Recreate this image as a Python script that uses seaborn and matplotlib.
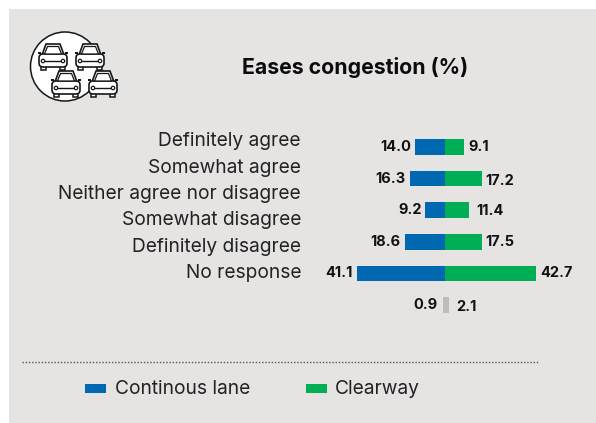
import matplotlib
matplotlib.use("Agg")
import matplotlib.pyplot as plt
from matplotlib.patches import Circle, Rectangle, FancyBboxPatch, Polygon
import pandas as pd
import seaborn as sns

categories = ["Definitely agree", "Somewhat agree", "Neither agree nor disagree",
              "Somewhat disagree", "Definitely disagree", "No response"]
continuous_lane = [14.0, 16.3, 9.2, 18.6, 41.1, 0.9]
clearway = [9.1, 17.2, 11.4, 17.5, 42.7, 2.1]
series_names = ["Continous lane", "Clearway"]
title = "Eases congestion (%)"

BLUE, GREEN, GREY, PANEL, INK = "#0067b1", "#00ae55", "#bcbcbc", "#e6e3e3", "#161616"
W, H = 596, 423
FONT = ["Inter", "DejaVu Sans"]

sns.set_theme(style="white")
plt.rcParams["font.family"] = FONT

rows = []
for i, c in enumerate(categories):
    grey = c == "No response"
    rows.append({"row": i, "value": -continuous_lane[i], "group": "none left" if grey else series_names[0]})
    rows.append({"row": i, "value": clearway[i], "group": "none right" if grey else series_names[1]})
df = pd.DataFrame(rows)

fig = plt.figure(figsize=(W / 100, H / 100), dpi=100, facecolor="white")

# overlay in pixel coordinates for the panel, badge, rule and legend
bg = fig.add_axes([0, 0, 1, 1], zorder=0)
bg.set_xlim(0, W)
bg.set_ylim(H, 0)
bg.axis("off")
bg.add_patch(Rectangle((9, 9), W - 9, H - 9, fc=PANEL, ec="none"))
bg.add_patch(Circle((65, 66.5), 34.5, fc="white", ec=INK, lw=1.1))


def car(cx, cy):
    for s in (-1, 1):
        bg.add_patch(Rectangle((cx + s * 9.5 - 2.5, cy + 8), 5, 5, fc="white", ec=INK, lw=1.1, zorder=2))
        bg.add_patch(Rectangle((cx + s * 13.5 - 1.2, cy - 5), 2.4, 2, fc=INK, ec="none", zorder=2))
    roof = Polygon([(cx - 11, cy - 2), (cx - 7, cy - 13), (cx + 7, cy - 13), (cx + 11, cy - 2)],
                   closed=True, fc="white", ec=INK, lw=1.2, zorder=3)
    body = FancyBboxPatch((cx - 14, cy - 3), 28, 13, boxstyle="round,pad=0,rounding_size=4",
                          fc="white", ec=INK, lw=1.2, zorder=3)
    glass = Polygon([(cx - 8.5, cy - 3), (cx - 5.5, cy - 10.5), (cx + 5.5, cy - 10.5), (cx + 8.5, cy - 3)],
                    closed=True, fc="white", ec=INK, lw=0.9, zorder=4)
    bg.add_patch(roof)
    bg.add_patch(body)
    bg.add_patch(glass)
    bg.plot([cx - 8, cx + 8], [cy + 4, cy + 4], color=INK, lw=1.0, zorder=4)
    for s in (-1, 1):
        bg.add_patch(Circle((cx + s * 10, cy + 4), 1.7, fc="white", ec=INK, lw=0.9, zorder=4))


for cx, cy in [(53, 57), (90, 57), (66, 84), (103, 84)]:
    car(cx, cy)

bg.text(355, 67, title, ha="center", va="center", fontsize=15.3, fontweight="bold", color="#0c0c0c")
bg.plot([22, 539], [362, 362], color="#555555", lw=1.0, ls=(0, (1, 1.3)))
bg.add_patch(Rectangle((85, 384), 21, 9, fc=BLUE, ec="none"))
bg.add_patch(Rectangle((306, 384), 21, 9, fc=GREEN, ec="none"))
bg.text(115, 389.5, series_names[0], ha="left", va="center", fontsize=13.8, color="#222222")
bg.text(335, 388.5, series_names[1], ha="left", va="center", fontsize=13.8, color="#222222")

# chart axes: left edge sits at the right edge of the category labels
px = 2.13   # pixels per percentage point
pitch = 31.6  # pixels per row
zero_x, first_y = 445, 147
left, right, top, bottom = 301, 590, 125, 325
ax = fig.add_axes([left / W, 1 - bottom / H, (right - left) / W, (bottom - top) / H], zorder=1)
ax.patch.set_alpha(0)
sns.barplot(data=df, x="value", y="row", hue="group", orient="h", dodge=False, legend=False,
            palette={series_names[0]: BLUE, series_names[1]: GREEN, "none left": GREY, "none right": GREY},
            width=0.5, order=list(range(len(categories))), ax=ax, saturation=1, linewidth=0,
            errorbar=None)
ax.set_xlim((left - zero_x) / px, (right - zero_x) / px)
ax.set_ylim((bottom - first_y) / pitch, (top - first_y) / pitch)
sns.despine(ax=ax, left=True, bottom=True)
ax.set_xticks([])
ax.set_xlabel("")
ax.set_ylabel("")
# the category labels keep their own, tighter spacing, not aligned with the bars
label_y = [139, 166, 192, 218, 245, 271]
ax.set_yticks([(y - first_y) / pitch for y in label_y])
ax.set_yticklabels(categories, fontsize=13.8, color="#222222")
ax.tick_params(axis="y", length=0, pad=0)

left_gap = [4, 5, 4, 5, 5, 6]
right_gap = [4, 4, 7, 3, 4, 7]
right_drop = [0, 2, 1, 0, 0, 2]
for i, (a, b) in enumerate(zip(continuous_lane, clearway)):
    ax.annotate(f"{a:.1f}", (-a, i), xytext=(-left_gap[i] * 0.72, 0), textcoords="offset points",
                ha="right", va="center", fontsize=10.5, fontweight="bold", color="#111111")
    ax.annotate(f"{b:.1f}", (b, i), xytext=(right_gap[i] * 0.72, -right_drop[i] * 0.72),
                textcoords="offset points",
                ha="left", va="center", fontsize=10.5, fontweight="bold", color="#111111")

fig.savefig("out.png", dpi=100)
